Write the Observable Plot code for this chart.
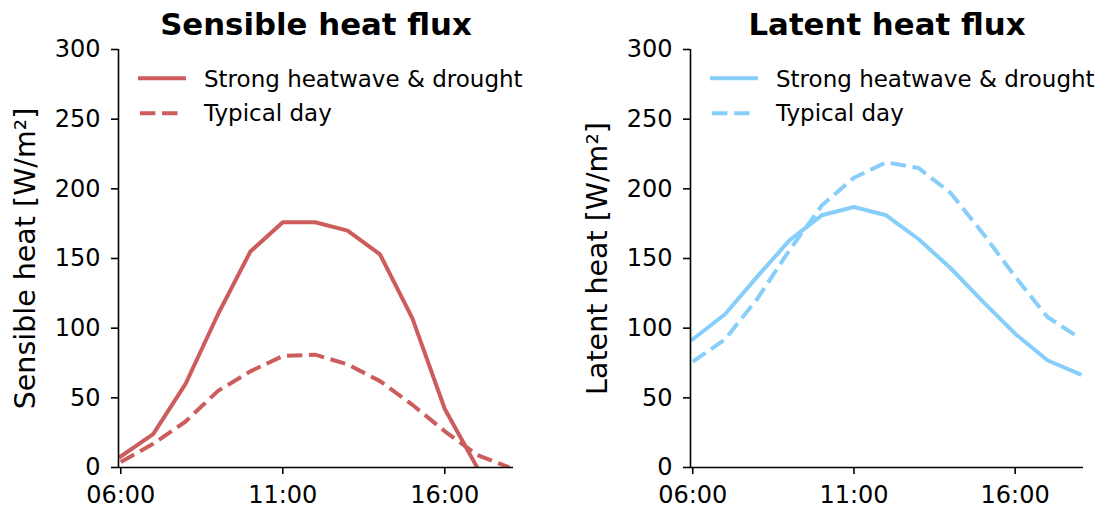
<!DOCTYPE html>
<html>
<head>
<meta charset="utf-8">
<script src="https://cdn.jsdelivr.net/npm/d3@7"></script>
<script src="https://cdn.jsdelivr.net/npm/@observablehq/plot@0.6"></script>
<style>
  html, body { margin: 0; padding: 0; background: #ffffff; }
  #wrap { position: relative; width: 1101px; height: 508px; font-family: "DejaVu Sans", sans-serif; overflow: hidden; }
  .panel { position: absolute; top: 0; }
  .legend { position: absolute; top: 0; overflow: visible; }
</style>
</head>
<body>
<div id="wrap"></div>
<script>
// ---------- data ----------
const hours = [6, 7, 8, 9, 10, 11, 12, 13, 14, 15, 16, 17, 18];
const hoursSensibleHeatwave = [6, 7, 8, 9, 10, 11, 12, 13, 14, 15, 16, 17];
const sensibleHeatwave = [8, 24, 60, 110, 155, 176, 176, 170, 153, 107, 42, 0];
const sensibleTypical  = [4, 17, 33, 55, 69, 80, 81, 74, 62, 45, 26, 9, 0];
const latentHeatwave   = [92, 110, 137, 163, 181, 187, 181, 164, 143, 119, 96, 77, 67];
const latentTypical    = [76, 92, 121, 156, 188, 208, 219, 215, 197, 168, 137, 108, 93];
const seriesNames = ["Strong heatwave & drought", "Typical day"];
const panelTitles = ["Sensible heat flux", "Latent heat flux"];
const yLabels = ["Sensible heat [W/m²]", "Latent heat [W/m²]"];
const yTicks = [0, 50, 100, 150, 200, 250, 300];
const xTicks = [6, 11, 16];
const yDomain = [0, 300];
const xDomain = [5.93, 18.12];
const colors = ["#cd5c5c", "#87cefa"];

// ---------- helpers ----------
const fmtHour = h => String(h).padStart(2, "0") + ":00";
const toRows = (xs, ys, series) => xs.map((x, i) => ({hour: x, value: ys[i], series}));

const panels = [
  {
    left: 0, width: 550, marginLeft: 118, marginRight: 37,
    color: colors[0], title: panelTitles[0], ylabel: yLabels[0],
    heatwave: toRows(hoursSensibleHeatwave, sensibleHeatwave, seriesNames[0]),
    typical: toRows(hours, sensibleTypical, seriesNames[1])
  },
  {
    left: 550, width: 551, marginLeft: 140, marginRight: 18,
    color: colors[1], title: panelTitles[1], ylabel: yLabels[1],
    heatwave: toRows(hours, latentHeatwave, seriesNames[0]),
    typical: toRows(hours, latentTypical, seriesNames[1])
  }
];

const wrap = document.getElementById("wrap");
const H = 508, marginTop = 49, marginBottom = 41;
const LW = 4, DASH = "15.4,6.7";

for (const p of panels) {
  const chart = Plot.plot({
    width: p.width,
    height: H,
    marginLeft: p.marginLeft,
    marginRight: p.marginRight,
    marginTop,
    marginBottom,
    style: {fontFamily: "DejaVu Sans, sans-serif", fontSize: "24px", color: "#000", background: "transparent", overflow: "visible"},
    x: {domain: xDomain, label: null},
    y: {domain: yDomain, label: null},
    marks: [
      Plot.line(p.heatwave, {x: "hour", y: "value", stroke: p.color, strokeWidth: LW, strokeLinejoin: "round", strokeLinecap: "square", clip: true}),
      Plot.line(p.typical, {x: "hour", y: "value", stroke: p.color, strokeWidth: LW, strokeLinejoin: "round", strokeLinecap: "butt", strokeDasharray: DASH, clip: true}),
      Plot.ruleY([yDomain[0]], {stroke: "#000", strokeWidth: 1.6}),
      Plot.ruleX([xDomain[0]], {stroke: "#000", strokeWidth: 1.6}),
      Plot.axisX({ticks: xTicks, tickFormat: fmtHour, tickSize: 7, tickPadding: 11.5, strokeWidth: 1.6, label: null}),
      Plot.axisY({ticks: yTicks, tickSize: 7, tickPadding: 11, strokeWidth: 1.6, label: null}),
      Plot.text([p.title], {text: d => d, frameAnchor: "top", dy: -15, lineAnchor: "bottom", fontSize: 30.8, fontWeight: "bold", fill: "#000"}),
      Plot.text([p.ylabel], {text: d => d, frameAnchor: "left", dx: -84, rotate: -90, textAnchor: "middle", lineAnchor: "bottom", fontSize: 28.5, fill: "#000"})
    ]
  });
  const holder = document.createElement("div");
  holder.className = "panel";
  holder.style.left = p.left + "px";
  holder.appendChild(chart);
  wrap.appendChild(holder);

  // legend overlay (matplotlib-style, upper left inside axes)
  const spineX = p.left + p.marginLeft;
  const lg = d3.select(wrap).append("svg")
    .attr("class", "legend")
    .attr("width", 400).attr("height", 140)
    .style("left", (spineX + 20) + "px");
  const rows = [
    {name: seriesNames[0], dash: null, cy: 78.3, base: 86.8},
    {name: seriesNames[1], dash: DASH, cy: 113.3, base: 121}
  ];
  for (const r of rows) {
    lg.append("line")
      .attr("x1", 2).attr("x2", 46).attr("y1", r.cy).attr("y2", r.cy)
      .attr("stroke", p.color).attr("stroke-width", LW)
      .attr("stroke-linecap", r.dash ? "butt" : "square")
      .attr("stroke-dasharray", r.dash);
    lg.append("text")
      .attr("x", 66).attr("y", r.base)
      .attr("font-family", "DejaVu Sans, sans-serif")
      .attr("font-size", 23)
      .attr("fill", "#000")
      .text(r.name);
  }
}
</script>
</body>
</html>
